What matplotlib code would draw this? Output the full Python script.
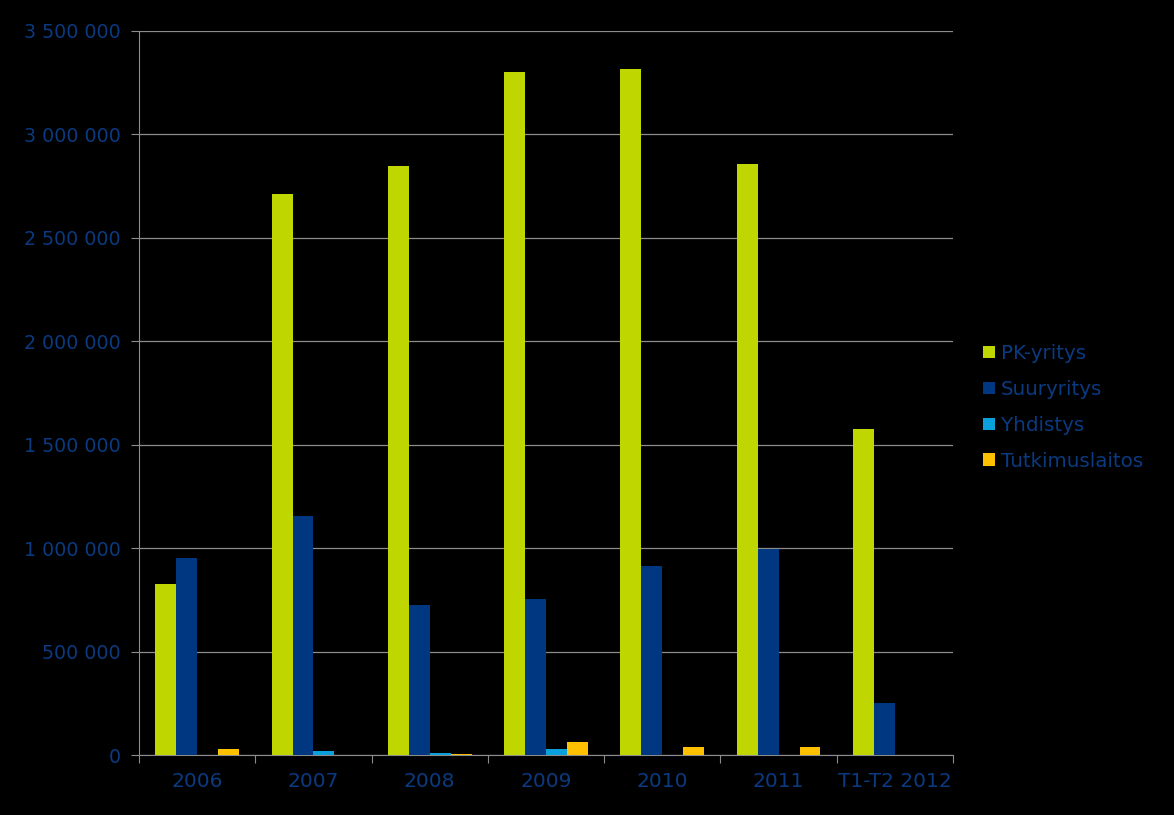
import numpy as np
import matplotlib.pyplot as plt
from matplotlib.ticker import FuncFormatter

# data
categories = ["2006", "2007", "2008", "2009", "2010", "2011", "T1-T2 2012"]
pk_yritys = [826000, 2712000, 2847000, 3302000, 3316000, 2857000, 1576000]
suuryritys = [952000, 1155000, 725000, 754000, 914000, 996000, 251000]
yhdistys = [0, 19000, 10000, 29000, 0, 0, 0]
tutkimuslaitos = [29000, 0, 5000, 63000, 39000, 39000, 0]

series = [("PK-yritys", pk_yritys, "#BFD600"),
          ("Suuryritys", suuryritys, "#003781"),
          ("Yhdistys", yhdistys, "#0AA0DC"),
          ("Tutkimuslaitos", tutkimuslaitos, "#FFC000")]

txt = "#0A3A80"
plt.rcParams['font.family'] = ['DejaVu Sans']

fig = plt.figure(figsize=(11.74, 8.15), dpi=100, facecolor="black")
ax = fig.add_axes([0.1184, 0.0736, 0.6934, 0.8884], facecolor="black")

x = np.arange(len(categories))
w = 0.18
for i, (name, vals, col) in enumerate(series):
    ax.bar(x + (i - 1.5) * w, vals, w, color=col, label=name, zorder=3)

ax.set_xlim(-0.5, len(categories) - 0.5)
ax.set_ylim(0, 3500000)
ax.set_yticks(np.arange(0, 3500001, 500000))
ax.yaxis.set_major_formatter(FuncFormatter(lambda v, p: f"{int(v):,}".replace(",", " ")))
ax.grid(axis="y", color="#8C8C8C", linewidth=0.9, zorder=0)

# category ticks at group boundaries, labels centred
ax.set_xticks(np.arange(-0.5, len(categories)), minor=False)
ax.set_xticklabels([])
ax.set_xticks(x, minor=True)
ax.set_xticklabels(categories, minor=True)
ax.tick_params(axis="x", which="major", length=6, color="#8C8C8C", direction="out")
ax.tick_params(axis="x", which="minor", length=0, pad=12, labelsize=14.5, labelcolor=txt)
ax.tick_params(axis="y", length=6, color="#8C8C8C", labelsize=13.7, labelcolor=txt, pad=7)

for s in ["top", "right"]:
    ax.spines[s].set_visible(False)
for s in ["left", "bottom"]:
    ax.spines[s].set_color("#8C8C8C")

leg = ax.legend(loc="center left", bbox_to_anchor=(1.015, 0.48), frameon=False,
                fontsize=14.3, handlelength=0.6, handleheight=0.6, handletextpad=0.3,
                labelspacing=0.85, labelcolor=txt)

fig.savefig("out.png", dpi=100, facecolor="black")
